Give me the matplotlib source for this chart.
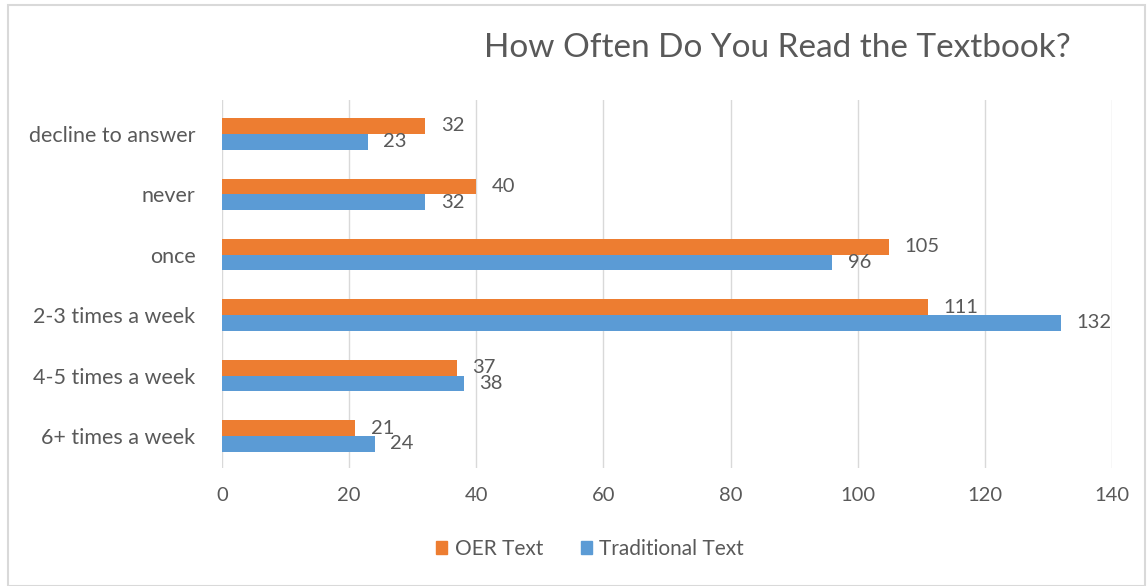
import matplotlib
matplotlib.use("Agg")
import matplotlib.pyplot as plt
from matplotlib.patches import Rectangle, Patch
import numpy as np

categories = ["decline to answer", "never", "once", "2-3 times a week",
              "4-5 times a week", "6+ times a week"]
oer_values = [32, 40, 105, 111, 37, 21]
traditional_values = [23, 32, 96, 132, 38, 24]
x_ticks = [0, 20, 40, 60, 80, 100, 120, 140]
title = "How Often Do You Read the Textbook?"
series_names = ["OER Text", "Traditional Text"]

ORANGE = "#ED7D31"
BLUE = "#5B9BD5"
TXT = "#595959"
GRID = "#D9D9D9"

plt.rcParams["font.family"] = ["Lato", "DejaVu Sans"]

fig = plt.figure(figsize=(11.47, 5.86), dpi=100)
ax = fig.add_axes([222/1147, 1-468/586, (1112-222)/1147, (468-100)/586])

y = np.arange(len(categories))
h = 0.26
ax.barh(y - h/2, oer_values, height=h, color=ORANGE, label=series_names[0], zorder=3)
ax.barh(y + h/2, traditional_values, height=h, color=BLUE, label=series_names[1], zorder=3)

for yi, v in zip(y, oer_values):
    ax.annotate(str(v), (v, yi - h/2), xytext=(11, 0), textcoords="offset points",
                ha="left", va="center", fontsize=14.5, color=TXT, zorder=4)
for yi, v in zip(y, traditional_values):
    ax.annotate(str(v), (v, yi + h/2), xytext=(11, 0), textcoords="offset points",
                ha="left", va="center", fontsize=14.5, color=TXT, zorder=4)

ax.set_xlim(0, 140)
ax.set_ylim(5.53, -0.56)
ax.set_xticks(x_ticks)
ax.set_xticklabels([str(t) for t in x_ticks])
ax.set_yticks(y)
ax.set_yticklabels(categories)
ax.tick_params(axis="both", length=0, colors=TXT)
ax.tick_params(axis="x", pad=14, labelsize=14.5)
ax.tick_params(axis="y", pad=19, labelsize=15.5)
ax.grid(axis="x", color=GRID, linewidth=1, zorder=0)
for s in ax.spines.values():
    s.set_visible(False)

fig.text(777/1147, 1-48/586, title, ha="center", va="center", fontsize=24, color=TXT)

fig.legend(handles=[Patch(color=ORANGE), Patch(color=BLUE)], labels=series_names,
           loc="center", bbox_to_anchor=(590/1147, 1-549/586), ncol=2, frameon=False,
           fontsize=15, labelcolor=TXT, handlelength=0.55, handleheight=0.55,
           handletextpad=0.35, columnspacing=1.8)

fig.patches.append(Rectangle((8/1147, 0.0), (1145-8)/1147, 1-5/586, transform=fig.transFigure,
                             fill=False, edgecolor="#D9D9D9", linewidth=1.5))

fig.savefig("out.png", dpi=100, facecolor="white")
